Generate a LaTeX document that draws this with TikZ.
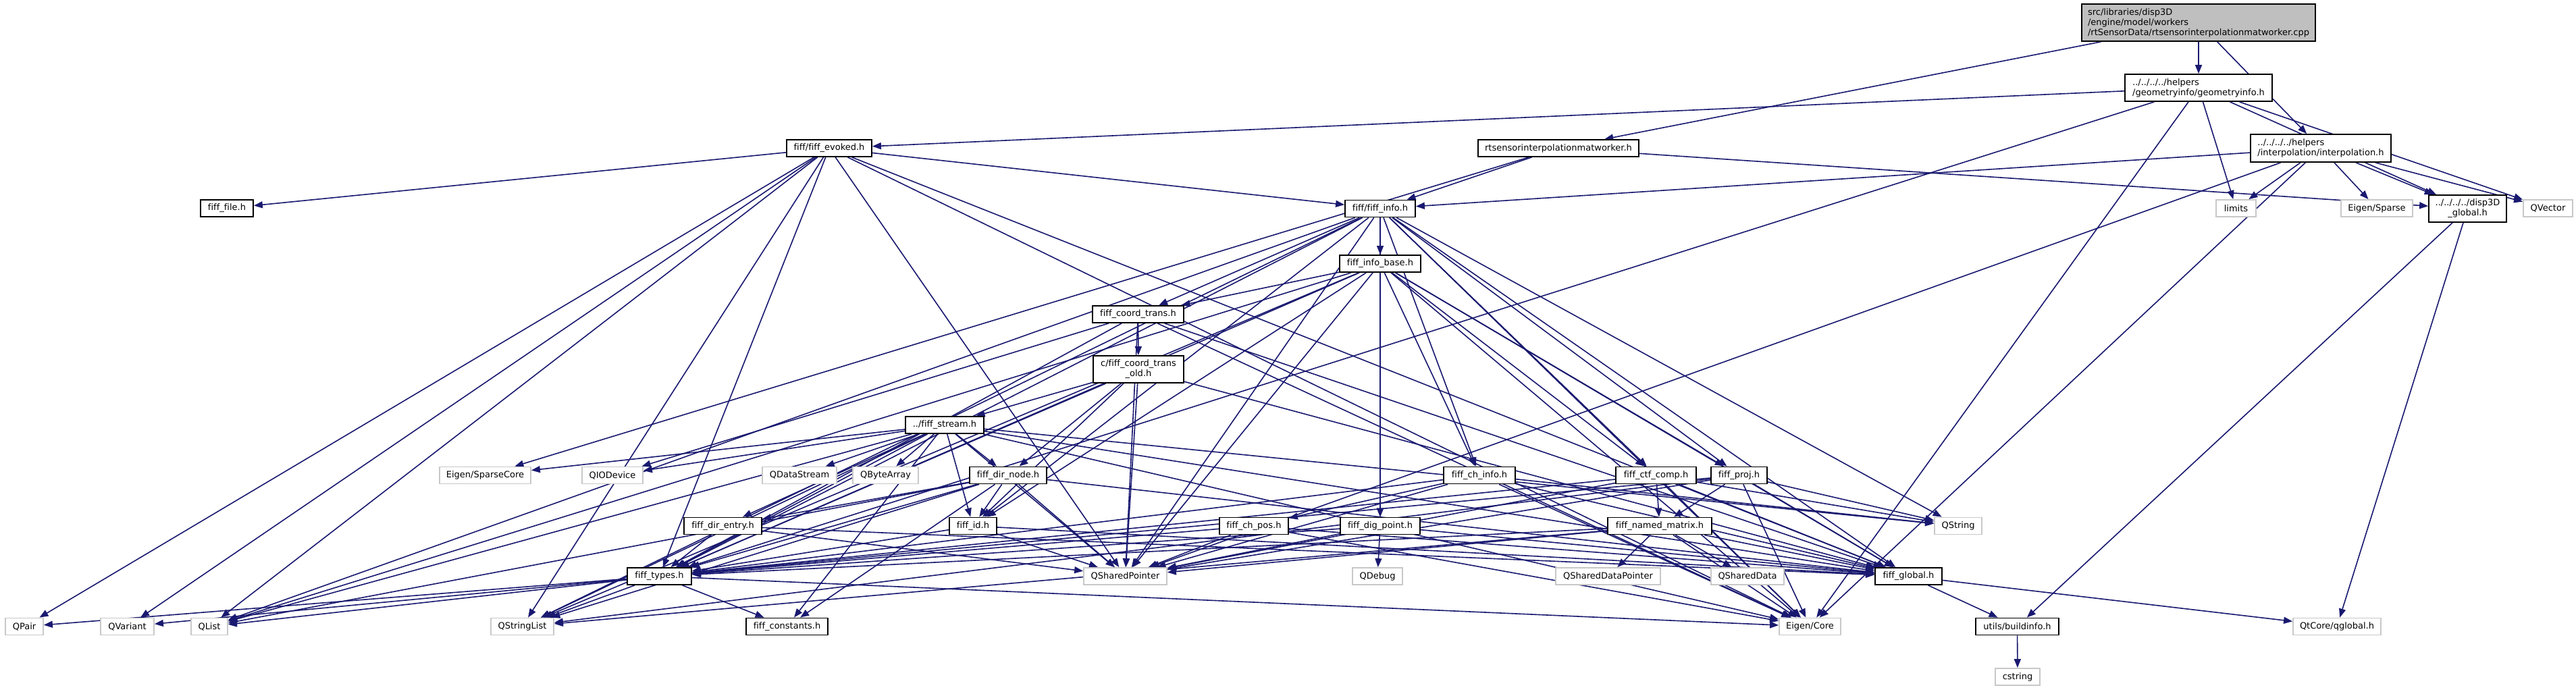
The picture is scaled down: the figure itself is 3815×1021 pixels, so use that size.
\documentclass[tikz,border=0pt]{standalone}
\usepackage{fontspec}
\setmainfont{DejaVu Sans}[Ligatures=NoCommon]
\usetikzlibrary{arrows.meta,backgrounds}
\definecolor{edgeblue}{HTML}{191970}
\definecolor{rootgray}{HTML}{BFBFBF}
\definecolor{extgray}{HTML}{C8C8C8}

\begin{document}
\begin{tikzpicture}[x=1pt,y=-1pt,
  every node/.style={font=\fontsize{13}{15}\selectfont,inner sep=0pt},
  hdr/.style={draw=black,fill=white,line width=1.8pt,minimum height=25pt},
  ext/.style={draw=extgray,fill=white,line width=1.8pt,minimum height=25pt},
  root/.style={draw=black,fill=rootgray,line width=1.8pt,align=left,inner xsep=7pt},
  dep/.style={draw=edgeblue,line width=1.6pt,-{Triangle[length=13pt,width=10pt]}}]
\useasboundingbox (0,0) rectangle (3815,1021);
% top rows
\node[root,minimum width=346pt,minimum height=55pt] (cppfile) at (3256,33.5) {src/libraries/disp3D\\/engine/model/workers\\/rtSensorData/rtsensorinterpolationmatworker.cpp};
\node[hdr,minimum width=218pt,minimum height=40pt,align=left] (geominfo) at (3256,130) {../../../../helpers\\/geometryinfo/geometryinfo.h};
\node[hdr,minimum width=238pt] (rtworker) at (2308,219.5) {rtsensorinterpolationmatworker.h};
\node[hdr,minimum width=208pt,minimum height=41pt,align=left] (interp) at (3437,219.5) {../../../../helpers\\/interpolation/interpolation.h};
\node[hdr,minimum width=126pt] (evoked) at (1228,219.5) {fiff/fiff\_evoked.h};
\node[hdr,minimum width=104pt] (info) at (2044,309) {fiff/fiff\_info.h};
\node[ext,minimum width=59pt] (limits) at (3311.5,308.5) {limits};
\node[ext,minimum width=106pt] (eigsparse) at (3520,308.5) {Eigen/Sparse};
\node[hdr,minimum width=115pt,minimum height=40pt,align=center] (dispglobal) at (3654.5,309) {../../../../disp3D\\\_global.h};
\node[ext,minimum width=73pt] (qvector) at (3773.5,308.5) {QVector};
\node[hdr,minimum width=78pt] (fifffile) at (336,308.5) {fiff\_file.h};
% middle rows
\node[hdr,minimum width=120pt] (infobase) at (2044,390.5) {fiff\_info\_base.h};
\node[hdr,minimum width=135pt] (coordtrans) at (1685.5,465.5) {fiff\_coord\_trans.h};
\node[hdr,minimum width=134pt,minimum height=40pt,align=center] (coordold) at (1686,547) {c/fiff\_coord\_trans\\\_old.h};
\node[hdr,minimum width=116pt] (fstream) at (1399,629.5) {../fiff\_stream.h};
\node[ext,minimum width=135pt] (sparsecore) at (718.5,704) {Eigen/SparseCore};
\node[ext,minimum width=90pt] (qiodevice) at (907,704) {QIODevice};
\node[ext,minimum width=110pt] (qdatastream) at (1184,704) {QDataStream};
\node[ext,minimum width=97pt] (qbytearray) at (1311.5,704) {QByteArray};
\node[hdr,minimum width=114pt] (dirnode) at (1493,704) {fiff\_dir\_node.h};
\node[hdr,minimum width=106pt] (chinfo) at (2191,704) {fiff\_ch\_info.h};
\node[hdr,minimum width=119pt] (ctfcomp) at (2452.5,704) {fiff\_ctf\_comp.h};
\node[hdr,minimum width=83pt] (fproj) at (2575.5,704) {fiff\_proj.h};
\node[hdr,minimum width=115pt] (direntry) at (1070.5,779) {fiff\_dir\_entry.h};
\node[hdr,minimum width=70pt] (fid) at (1441,779) {fiff\_id.h};
\node[hdr,minimum width=102pt] (chpos) at (1857,779) {fiff\_ch\_pos.h};
\node[hdr,minimum width=118pt] (digpoint) at (2044,779) {fiff\_dig\_point.h};
\node[hdr,minimum width=154pt] (namedmat) at (2458,779) {fiff\_named\_matrix.h};
\node[ext,minimum width=70pt] (qstring) at (2900,779) {QString};
% bottom rows
\node[hdr,minimum width=95pt] (ftypes) at (976.5,853.5) {fiff\_types.h};
\node[ext,minimum width=123pt] (qsharedptr) at (1666.5,853.5) {QSharedPointer};
\node[ext,minimum width=74pt] (qdebug) at (2040,853.5) {QDebug};
\node[ext,minimum width=155pt] (qshdataptr) at (2381.5,853.5) {QSharedDataPointer};
\node[ext,minimum width=108pt] (qshdata) at (2588,853.5) {QSharedData};
\node[hdr,minimum width=99pt] (fglobal) at (2826.5,853.5) {fiff\_global.h};
\node[ext,minimum width=56pt] (qpair) at (36,928) {QPair};
\node[ext,minimum width=79pt] (qvariant) at (188.5,928) {QVariant};
\node[ext,minimum width=54pt] (qlist) at (310,928) {QList};
\node[ext,minimum width=93pt] (qstrlist) at (773.5,928) {QStringList};
\node[hdr,minimum width=121pt] (fconst) at (1165.5,928) {fiff\_constants.h};
\node[ext,minimum width=91pt] (eigcore) at (2680.5,928) {Eigen/Core};
\node[hdr,minimum width=123pt] (buildinfo) at (2987.5,928) {utils/buildinfo.h};
\node[ext,minimum width=130pt] (qtglobal) at (3461,928) {QtCore/qglobal.h};
\node[ext,minimum width=66pt] (cstr) at (2988,1002.5) {cstring};
\begin{scope}[on background layer]
% cpp and disp3D headers
\draw[dep] (cppfile) -- (geominfo);
\draw[dep] (cppfile) -- (rtworker);
\draw[dep] (cppfile) -- (interp);
\draw[dep] (geominfo) -- (evoked);
\draw[dep] (geominfo) -- (ftypes);
\draw[dep] (geominfo) -- (limits);
\draw[dep] (geominfo) -- (eigcore);
\draw[dep] (geominfo) -- (dispglobal);
\draw[dep] (geominfo) -- (qvector);
\draw[dep] (rtworker) -- (info);
\draw[dep] (rtworker) -- (dispglobal);
\draw[dep] (rtworker) -- (sparsecore);
\draw[dep] (interp) -- (info);
\draw[dep] (interp) -- (limits);
\draw[dep] (interp) -- (qsharedptr);
\draw[dep] (interp) -- (eigcore);
\draw[dep] (interp) -- (eigsparse);
\draw[dep] (interp) -- (dispglobal);
\draw[dep] (interp) -- (qvector);
\draw[dep] (dispglobal) -- (buildinfo);
\draw[dep] (dispglobal) -- (qtglobal);
% fiff_evoked
\draw[dep] (evoked) -- (info);
\draw[dep] (evoked) -- (fifffile);
\draw[dep] (evoked) -- (ftypes);
\draw[dep] (evoked) -- (fglobal);
\draw[dep] (evoked) -- (qpair);
\draw[dep] (evoked) -- (qvariant);
\draw[dep] (evoked) -- (qlist);
\draw[dep] (evoked) -- (qstrlist);
\draw[dep] (evoked) -- (qsharedptr);
\draw[dep] (evoked) -- (eigcore);
% fiff_info
\draw[dep] (info) -- (infobase);
\draw[dep] (info) -- (coordtrans);
\draw[dep] (info) -- (chinfo);
\draw[dep] (info) -- (digpoint);
\draw[dep] (info) -- (ctfcomp);
\draw[dep] (info) -- (fproj);
\draw[dep] (info) -- (fid);
\draw[dep] (info) -- (ftypes);
\draw[dep] (info) -- (fglobal);
\draw[dep] (info) -- (qsharedptr);
\draw[dep] (info) -- (qlist);
\draw[dep] (info) -- (qstrlist);
\draw[dep] (info) -- (qstring);
\draw[dep] (info) -- (eigcore);
% fiff_info_base
\draw[dep] (infobase) -- (coordtrans);
\draw[dep] (infobase) -- (chinfo);
\draw[dep] (infobase) -- (digpoint);
\draw[dep] (infobase) -- (ctfcomp);
\draw[dep] (infobase) -- (fproj);
\draw[dep] (infobase) -- (fid);
\draw[dep] (infobase) -- (ftypes);
\draw[dep] (infobase) -- (fglobal);
\draw[dep] (infobase) -- (qsharedptr);
\draw[dep] (infobase) -- (qlist);
\draw[dep] (infobase) -- (qstrlist);
\draw[dep] (infobase) -- (eigcore);
% coordinate transforms
\draw[dep] (coordtrans) -- (coordold);
\draw[dep] (coordtrans) -- (ftypes);
\draw[dep] (coordtrans) -- (qsharedptr);
\draw[dep] (coordtrans) -- (qiodevice);
\draw[dep] (coordtrans) -- (fglobal);
\draw[dep] (coordtrans) -- (eigcore);
\draw[dep] (coordold) -- (fstream);
\draw[dep] (coordold) -- (dirnode);
\draw[dep] (coordold) -- (fid);
\draw[dep] (coordold) -- (ftypes);
\draw[dep] (coordold) -- (qsharedptr);
\draw[dep] (coordold) -- (fglobal);
% fiff_stream
\draw[dep] (fstream) -- (dirnode);
\draw[dep] (fstream) -- (direntry);
\draw[dep] (fstream) -- (fid);
\draw[dep] (fstream) -- (ftypes);
\draw[dep] (fstream) -- (fglobal);
\draw[dep] (fstream) -- (fconst);
\draw[dep] (fstream) -- (qsharedptr);
\draw[dep] (fstream) -- (qdatastream);
\draw[dep] (fstream) -- (qbytearray);
\draw[dep] (fstream) -- (qiodevice);
\draw[dep] (fstream) -- (sparsecore);
\draw[dep] (fstream) -- (qlist);
\draw[dep] (fstream) -- (qstrlist);
\draw[dep] (fstream) -- (qstring);
\draw[dep] (fstream) -- (eigcore);
% directory tree
\draw[dep] (dirnode) -- (direntry);
\draw[dep] (dirnode) -- (fid);
\draw[dep] (dirnode) -- (ftypes);
\draw[dep] (dirnode) -- (qsharedptr);
\draw[dep] (dirnode) -- (fglobal);
\draw[dep] (dirnode) -- (qlist);
\draw[dep] (dirnode) -- (qstrlist);
\draw[dep] (dirnode) -- (fconst);
\draw[dep] (direntry) -- (ftypes);
\draw[dep] (direntry) -- (qsharedptr);
\draw[dep] (direntry) -- (fglobal);
\draw[dep] (fid) -- (ftypes);
\draw[dep] (fid) -- (qsharedptr);
\draw[dep] (fid) -- (fglobal);
% channels and points
\draw[dep] (chinfo) -- (chpos);
\draw[dep] (chinfo) -- (ftypes);
\draw[dep] (chinfo) -- (qsharedptr);
\draw[dep] (chinfo) -- (fglobal);
\draw[dep] (chinfo) -- (qstring);
\draw[dep] (chinfo) -- (eigcore);
\draw[dep] (chpos) -- (ftypes);
\draw[dep] (chpos) -- (qsharedptr);
\draw[dep] (chpos) -- (fglobal);
\draw[dep] (chpos) -- (eigcore);
\draw[dep] (digpoint) -- (ftypes);
\draw[dep] (digpoint) -- (qsharedptr);
\draw[dep] (digpoint) -- (fglobal);
\draw[dep] (digpoint) -- (qdebug);
% compensation, projectors, matrices
\draw[dep] (ctfcomp) -- (namedmat);
\draw[dep] (ctfcomp) -- (ftypes);
\draw[dep] (ctfcomp) -- (qsharedptr);
\draw[dep] (ctfcomp) -- (fglobal);
\draw[dep] (ctfcomp) -- (qstring);
\draw[dep] (ctfcomp) -- (eigcore);
\draw[dep] (fproj) -- (namedmat);
\draw[dep] (fproj) -- (ftypes);
\draw[dep] (fproj) -- (qsharedptr);
\draw[dep] (fproj) -- (fglobal);
\draw[dep] (fproj) -- (qstring);
\draw[dep] (fproj) -- (eigcore);
\draw[dep] (fproj) -- (qstrlist);
\draw[dep] (namedmat) -- (ftypes);
\draw[dep] (namedmat) -- (qsharedptr);
\draw[dep] (namedmat) -- (fglobal);
\draw[dep] (namedmat) -- (qshdataptr);
\draw[dep] (namedmat) -- (qshdata);
\draw[dep] (namedmat) -- (eigcore);
\draw[dep] (namedmat) -- (qstrlist);
% base headers
\draw[dep] (ftypes) -- (fconst);
\draw[dep] (ftypes) -- (qpair);
\draw[dep] (ftypes) -- (qvariant);
\draw[dep] (ftypes) -- (qlist);
\draw[dep] (ftypes) -- (qstrlist);
\draw[dep] (ftypes) -- (eigcore);
\draw[dep] (fglobal) -- (buildinfo);
\draw[dep] (fglobal) -- (qtglobal);
\draw[dep] (buildinfo) -- (cstr);
\end{scope}
\end{tikzpicture}
\end{document}
